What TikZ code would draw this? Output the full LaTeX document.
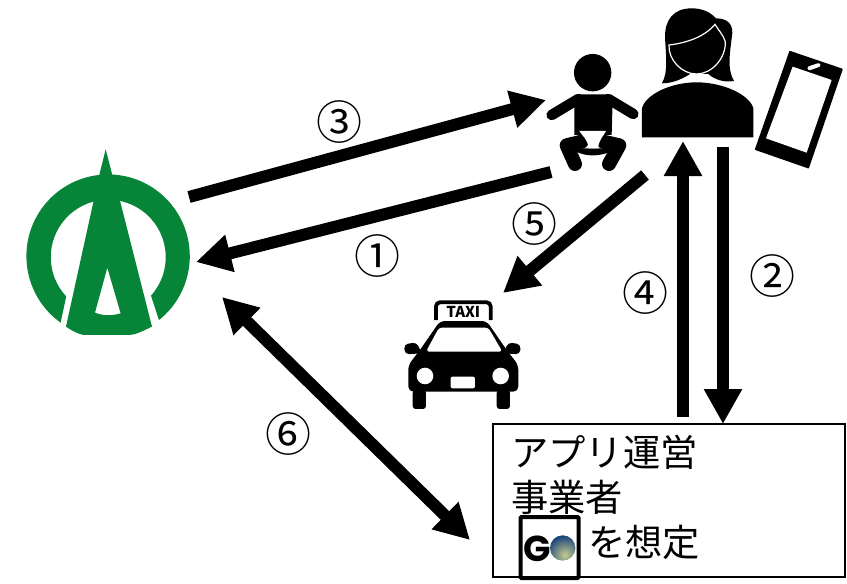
\documentclass[tikz,border=0pt]{standalone}
\usepackage{fontspec}
\setmainfont{Noto Sans CJK JP}
\newfontfamily\gofont{Poppins}
\usetikzlibrary{arrows.meta}
\definecolor{logogreen}{HTML}{068539}
\definecolor{gonavy}{HTML}{16407A}
\definecolor{gopale}{HTML}{C4CC8E}
\tikzset{
  x=1pt,y=-1pt,
  flow/.style={line width=12pt,-{Triangle[length=35pt,width=36pt]}},
  flowboth/.style={line width=12pt,{Triangle[length=35pt,width=36pt]}-{Triangle[length=35pt,width=36pt]}},
  num/.style={font=\fontsize{46}{46}\selectfont,inner sep=0pt},
  jp/.style={font=\fontsize{37.3}{37.3}\selectfont,inner sep=0pt,anchor=west},
}
\begin{document}
\begin{tikzpicture}
\useasboundingbox (0,0) rectangle (847,584);
\fill[white] (0,0) rectangle (847,584);
% logo
\begin{scope}[shift={(0,130)},x=0.3333pt,y=-0.3333pt]
 \fill[logogreen] (182,578) arc[start angle=234.5,end angle=-51.5,radius=81.7pt] -- (453,497)
   arc[start angle=-42,end angle=223,radius=57.5pt] -- cycle;
 \fill[logogreen,even odd rule] (317,58) -- (337,135) -- (360,212) -- (456,590) .. controls (420,607) and (405,615) .. (385,615) -- (250,615) .. controls (235,612) and (215,602) .. (198,590) -- (281,212) -- (298,135) -- cycle
   (322,413) -- (362,550) .. controls (335,558) and (310,558) .. (285,548) -- cycle;
\end{scope}
% baby, woman, phone
\begin{scope}[shift={(540,0)},x=0.3333pt,y=-0.3333pt]
 \fill (158,218) circle[radius=18.7pt];
 \fill (110,283) -- (207,283) -- (218,300) -- (215,405) -- (103,405) -- (103,300) -- cycle;
 \draw[line width=10.5pt,line cap=round] (115,297) -- (35,345);
 \draw[line width=10.5pt,line cap=round] (205,297) -- (280,342);
 \draw[line width=14pt,line cap=round,line join=round] (125,425) -- (80,436) -- (105,492);
 \draw[line width=14pt,line cap=round,line join=round] (190,425) -- (238,436) -- (207,492);
 \fill (108,455) .. controls (140,470) and (175,470) .. (212,455) -- (212,445) -- (108,445) -- cycle;
 \fill[white] (118,393) -- (198,393) .. controls (190,410) and (178,415) .. (174,445) -- (146,445) .. controls (142,415) and (128,410) .. (118,393) -- cycle;
 % hair
 \fill (455,25) .. controls (400,25) and (375,60) .. (375,110) .. controls (378,170) and (385,215) .. (366,250) .. controls (400,250) and (430,235) .. (450,222) -- (505,222) .. controls (525,240) and (555,248) .. (582,243) .. controls (560,205) and (570,160) .. (577,100) .. controls (578,70) and (560,55) .. (528,55) .. controls (510,35) and (485,25) .. (455,25) -- cycle;
 % face
 \filldraw[draw=white,line width=1.2pt] (387,135) .. controls (430,130) and (490,115) .. (525,73) .. controls (535,90) and (550,105) .. (556,125) .. controls (558,175) and (515,222) .. (470,222) .. controls (425,222) and (385,180) .. (387,135) -- cycle;
 % body
 \fill (306,412) -- (640,412) -- (640,325) .. controls (630,285) and (550,247) .. (470,247) .. controls (390,247) and (316,285) .. (306,325) -- cycle;
 % phone
 \filldraw[line width=1.5pt,line join=round] (750,155) -- (906,208) -- (805,503) -- (647,448) -- cycle;
 \fill[white] (758,200) -- (875,240) -- (800,458) -- (678,415) -- cycle;
 \fill[white,rounded corners=2pt,rotate around={19:(822,200)}] (802,194) rectangle (842,206);
\end{scope}
% taxi
\begin{scope}[shift={(390,285)},x=0.3333pt,y=-0.3333pt]
 \draw[line width=3.8pt,rounded corners=4pt] (138,105) -- (138,52) -- (302,52) -- (302,105);
 \node[inner sep=0pt,font=\fontsize{15}{15}\selectfont\bfseries] (taxilabel) at (220,82) {TAXI};
 \fill[rounded corners=5pt] (150,108) -- (290,108) -- (350,195) -- (385,240) -- (385,320) -- (55,320) -- (55,240) -- (90,195) -- cycle;
 \fill[rounded corners=3pt] (68,315) rectangle (108,372);
 \fill[rounded corners=3pt] (320,315) rectangle (360,372);
 \fill[rounded corners=4pt] (42,178) -- (80,172) -- (95,205) -- (45,208) -- cycle;
 \fill[rounded corners=4pt] (392,178) -- (355,172) -- (340,205) -- (390,208) -- cycle;
 \fill[white,rounded corners=3pt] (147,128) -- (295,128) -- (337,200) -- (108,200) -- cycle;
 \fill[white] (105,273) circle[radius=8.3pt];
 \fill[white] (332,273) circle[radius=8.3pt];
 \fill[white,rounded corners=2pt] (182,275) rectangle (255,310);
\end{scope}
% box
\node[draw,line width=1.2pt,minimum width=352pt,minimum height=153pt,inner sep=0pt] (box) at (669,500.5) {};
\node[jp] (t1) at (511,452) {アプリ運営};
\node[jp] (t2) at (511,497) {事業者};
\node[jp] (t3) at (588,542) {を想定};
% GO
\node[draw,line width=4pt,rounded corners=1pt,minimum width=58pt,minimum height=61pt,inner sep=0pt] (go) at (549.5,547.5) {};
\node[inner sep=0pt,font=\gofont\bfseries\fontsize{36}{36}\selectfont] (goG) at (537,548.5) {G};
\begin{scope}
 \clip (562.7,548) circle[radius=12.7pt];
 \shade[inner color=gopale,outer color=gonavy] (565,555) circle[radius=20pt];
\end{scope}
% numbers
\node[num] (n3) at (339,122) {③};
\node[num] (n1) at (377,256) {①};
\node[num] (n5) at (534,224) {⑤};
\node[num] (n4) at (645,293) {④};
\node[num] (n2) at (772,276) {②};
\node[num] (n6) at (288,434) {⑥};
% connector ends
\coordinate (a3s) at (189,197); \coordinate (a3e) at (546,100);
\coordinate (a1s) at (551,172); \coordinate (a1e) at (196,262);
\coordinate (a5s) at (645,175); \coordinate (a5e) at (503,293);
\coordinate (a4s) at (683,417); \coordinate (a4e) at (683,141);
\coordinate (a2s) at (723,147); \coordinate (a2e) at (723,424);
\coordinate (a6s) at (222,297); \coordinate (a6e) at (470,540);
\draw[flow] (a3s) -- (a3e);
\draw[flow] (a1s) -- (a1e);
\draw[flow] (a5s) -- (a5e);
\draw[flow] (a4s) -- (a4e);
\draw[flow] (a2s) -- (a2e);
\draw[flowboth] (a6s) -- (a6e);
\end{tikzpicture}
\end{document}
